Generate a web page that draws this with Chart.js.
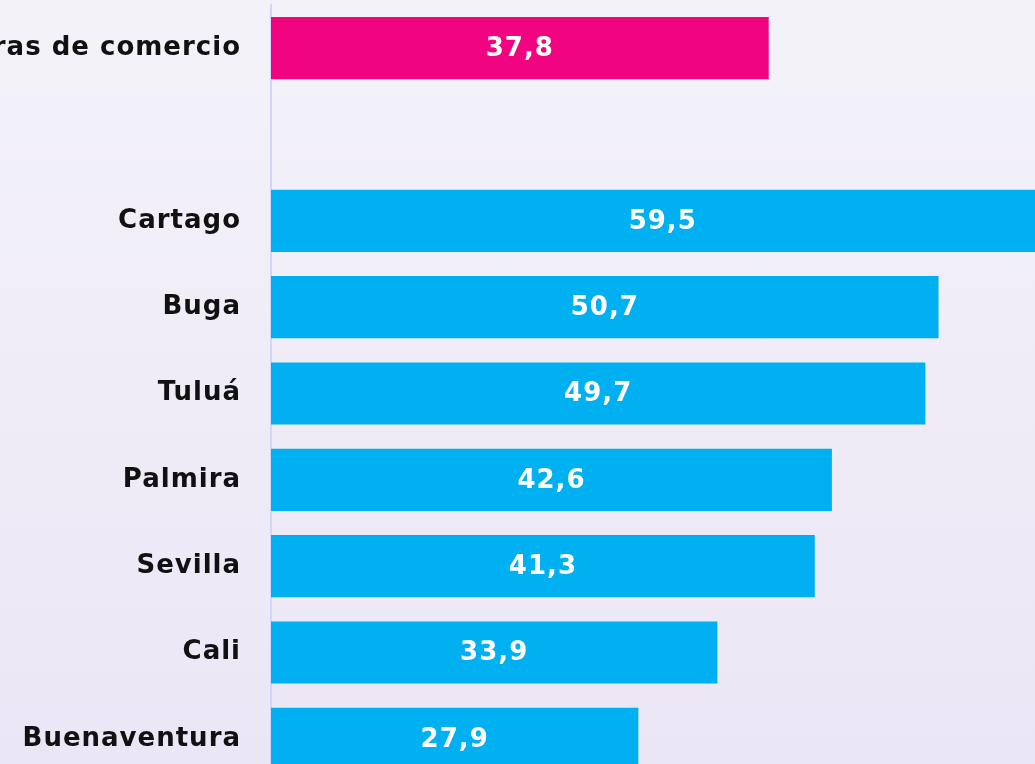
<!DOCTYPE html>
<html>
<head>
<meta charset="utf-8">
<script src="https://cdn.jsdelivr.net/npm/chart.js@4"></script>
<style>
  html, body {
    margin: 0;
    padding: 0;
    width: 1035px;
    height: 764px;
    overflow: hidden;
    background: linear-gradient(180deg, #f4f2f9 0%, #efecf7 50%, #ebe6f5 100%);
  }
  #wrap {
    position: absolute;
    left: -100px;
    top: 0;
    width: 1161px;
    height: 782px;
  }
</style>
</head>
<body>
<div id="wrap"><canvas id="chart"></canvas></div>
<script>
document.addEventListener("DOMContentLoaded", () => {

    const categories = ["Cámaras de comercio", "", "Cartago", "Buga", "Tuluá", "Palmira", "Sevilla", "Cali", "Buenaventura"];
    const values = [37.8, null, 59.5, 50.7, 49.7, 42.6, 41.3, 33.9, 27.9];
    const barColors = ["#f0047f", "#00b0f0", "#00b0f0", "#00b0f0", "#00b0f0", "#00b0f0", "#00b0f0", "#00b0f0", "#00b0f0"];

    const fontFamily = "'DejaVu Sans', sans-serif";

    // a little extra tracking so the labels fill the same width as the original
    const spacing = {
        id: "spacing",
        beforeDraw(chart) { chart.ctx.letterSpacing = "1px"; },
        afterDraw(chart) { chart.ctx.letterSpacing = "0px"; }
    };

    // white value labels centred inside each bar
    const valueLabels = {
        id: "valueLabels",
        afterDatasetsDraw(chart) {
            const ctx = chart.ctx;
            const meta = chart.getDatasetMeta(0);
            ctx.save();
            ctx.letterSpacing = "1px";
            ctx.fillStyle = "#ffffff";
            ctx.font = "bold 26px " + fontFamily;
            ctx.textAlign = "center";
            ctx.textBaseline = "middle";
            meta.data.forEach((bar, i) => {
                const v = values[i];
                if (v === null) return;
                const cx = (bar.x + bar.base) / 2;
                ctx.fillText(v.toFixed(1).replace(".", ","), cx, bar.y + 1);
            });
            ctx.restore();
        }
    };

    const chartCtx = document.getElementById("chart").getContext("2d");

    new Chart(chartCtx, {
        type: "bar",
        data: {
            labels: categories,
            datasets: [{
                data: values,
                backgroundColor: barColors,
                borderWidth: 0,
                barPercentage: 0.72,
                categoryPercentage: 1.0,
            }]
        },
        options: {
            indexAxis: "y",
            responsive: true,
            maintainAspectRatio: false,
            animation: false,
            layout: { padding: { top: 5, right: 0, bottom: 0, left: 0 } },
            plugins: {
                legend: { display: false },
                tooltip: { enabled: false },
            },
            scales: {
                x: {
                    display: false,
                    min: 0,
                    max: 60,
                },
                y: {
                    afterFit: (scale) => {
                        scale.width = 371;
                        scale.paddingTop = 0;
                        scale.paddingBottom = 0;
                    },
                    grid: { display: false, drawTicks: false },
                    border: { display: true, color: "#d3d4f7", width: 2 },
                    ticks: {
                        color: "#111111",
                        padding: 30,
                        font: { family: fontFamily, size: 26, weight: "bold" },
                    }
                }
            }
        },
        plugins: [spacing, valueLabels]
    });
});
</script>
</body>
</html>
